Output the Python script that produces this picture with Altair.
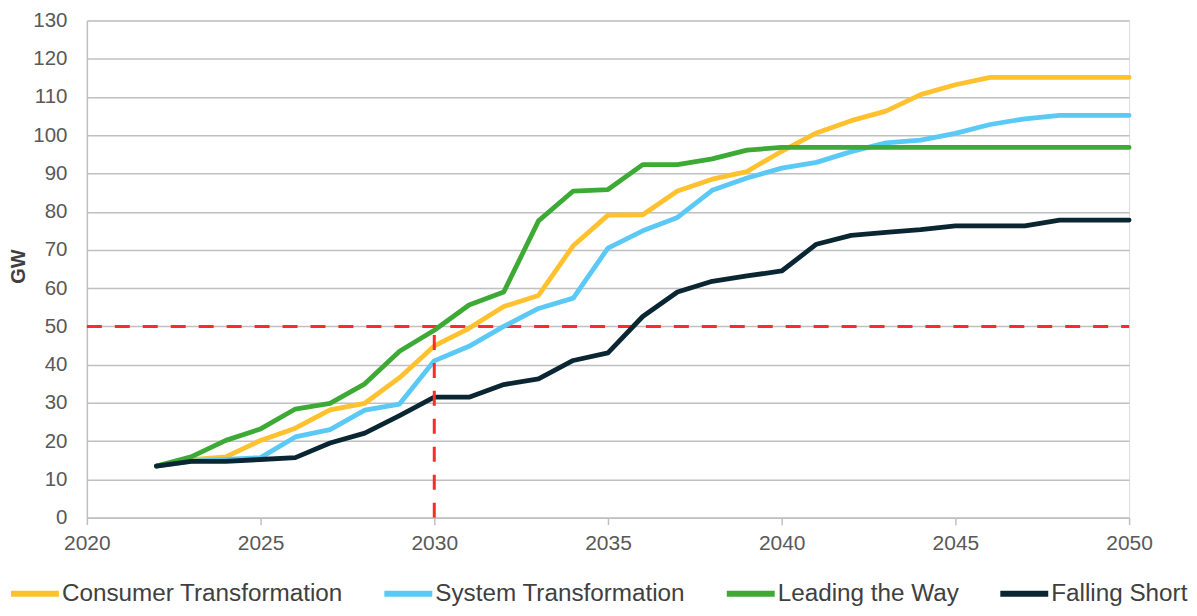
import altair as alt
import pandas as pd

years = list(range(2022, 2051))
consumer = [13.5, 15.2, 15.9, 20.2, 23.4, 28.2, 29.9, 36.6, 44.9, 49.5, 55.2, 58.1, 71.1, 79.1, 79.2,
            85.4, 88.5, 90.5, 95.8, 100.6, 103.8, 106.3, 110.6, 113.2, 115.1, 115.1, 115.1, 115.1, 115.1]
system = [13.5, 14.8, 15.2, 15.7, 21.1, 23.0, 28.1, 29.7, 41.0, 44.8, 50.0, 54.7, 57.4, 70.5, 75.0,
          78.5, 85.6, 88.8, 91.4, 92.9, 95.7, 98.0, 98.7, 100.5, 102.8, 104.3, 105.2, 105.2, 105.2]
leading = [13.5, 15.9, 20.2, 23.2, 28.4, 29.9, 35.0, 43.5, 49.0, 55.6, 59.0, 77.6, 85.4, 85.8, 92.3,
           92.3, 93.8, 96.1, 96.8, 96.8, 96.8, 96.8, 96.8, 96.8, 96.8, 96.8, 96.8, 96.8, 96.8]
falling = [13.5, 14.7, 14.7, 15.2, 15.7, 19.5, 22.1, 26.7, 31.5, 31.5, 34.8, 36.3, 41.1, 43.1, 52.6,
           59.0, 61.8, 63.2, 64.5, 71.5, 73.8, 74.6, 75.3, 76.3, 76.3, 76.3, 77.8, 77.8, 77.8]

series_names = ["Consumer Transformation", "System Transformation", "Leading the Way", "Falling Short"]
series_values = [consumer, system, leading, falling]
series_colors = ["#FFC12E", "#5BC9F5", "#3DAA35", "#0B2633"]

x_ticks = [2020, 2025, 2030, 2035, 2040, 2045, 2050]
y_ticks = list(range(0, 131, 10))

target_gw = 50
target_year = 2030

rows = []
for order, (name, vals) in enumerate(zip(series_names, series_values)):
    for yr, v in zip(years, vals):
        rows.append({"Year": yr, "GW": v, "Scenario": name, "order": order})
df = pd.DataFrame(rows)

FONT = "Liberation Sans"

x_scale = alt.Scale(domain=[2020, 2050], nice=False, zero=False)
y_scale = alt.Scale(domain=[0, 130], nice=False)

x_axis = alt.Axis(values=x_ticks, format="d", title=None, grid=False,
                  domainColor="#c0c0c0", domainWidth=1.5, tickColor="#c0c0c0",
                  tickWidth=1.5, tickSize=7, labelPadding=8, labelFontSize=21,
                  labelColor="#595959", labelFont=FONT, labelFlush=False,
                  labelOverlap=False)
y_axis = alt.Axis(values=y_ticks, title="GW", grid=True, gridColor="#c0c0c0",
                  gridWidth=1.5, ticks=False, domainColor="#c0c0c0", domainWidth=1.5,
                  labelPadding=20, labelFontSize=20.5, labelColor="#595959",
                  labelFont=FONT, labelOverlap=False, labelFlush=False,
                  titleFont=FONT, titleFontSize=20,
                  titleFontWeight="bold", titleColor="#404040",
                  titleX=-68, titleY=246, titleAngle=-90, titleBaseline="middle",
                  titleAlign="center")

hline_df = pd.DataFrame({"x": [2020], "x2": [2050], "y": [target_gw]})
vline_df = pd.DataFrame({"x": [target_year], "y": [0], "y2": [target_gw]})

hrule = alt.Chart(hline_df).mark_rule(color="#FF2B2B", strokeWidth=3, strokeDash=[15, 13]).encode(
    x=alt.X("x:Q", scale=x_scale, axis=x_axis), x2="x2:Q",
    y=alt.Y("y:Q", scale=y_scale, axis=y_axis)
)

lines = alt.Chart(df).mark_line(strokeWidth=4.8, strokeJoin="round", strokeCap="round").encode(
    x=alt.X("Year:Q", scale=x_scale, axis=x_axis),
    y=alt.Y("GW:Q", scale=y_scale, axis=y_axis),
    color=alt.Color("Scenario:N",
                    scale=alt.Scale(domain=series_names, range=series_colors),
                    legend=alt.Legend(title=None, orient="none", direction="horizontal",
                                      columns=4, legendX=-79, legendY=547,
                                      symbolType="stroke", symbolSize=2304,
                                      symbolStrokeWidth=6, labelFontSize=24.3,
                                      labelFont=FONT, labelColor="#404040",
                                      labelLimit=500, labelOffset=0, columnPadding=29)),
    order=alt.Order("order:Q"),
)

vrule = alt.Chart(vline_df).mark_rule(color="#FF2B2B", strokeWidth=3, strokeDash=[15, 13]).encode(
    x=alt.X("x:Q", scale=x_scale, axis=x_axis),
    y=alt.Y("y:Q", scale=y_scale, axis=y_axis), y2="y2:Q"
)

chart = alt.layer(hrule, lines, vrule).properties(
    width=1044, height=498,
    autosize=alt.AutoSizeParams(type="none"),
    padding={"left": 79, "top": 12, "right": 60, "bottom": 90},
).configure_view(stroke=None).configure(font=FONT)

chart.save("out.html", embed_options={"renderer": "svg", "actions": False})
